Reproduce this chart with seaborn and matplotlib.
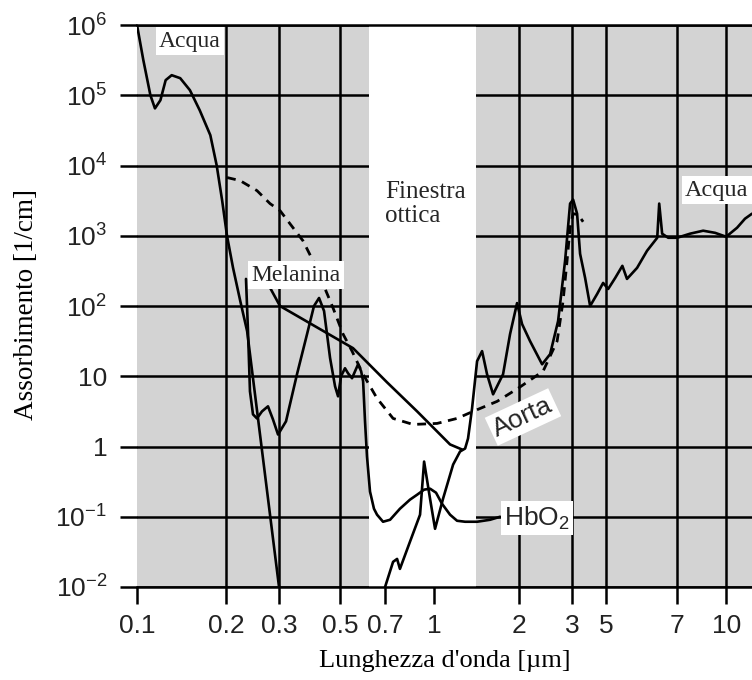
import numpy as np
import matplotlib
matplotlib.use("Agg")
import matplotlib.pyplot as plt
import seaborn as sns
from matplotlib.ticker import FixedLocator, NullLocator


# 1. DATA

water_uv_wl = [0.1, 0.105, 0.111, 0.115, 0.12, 0.125, 0.131, 0.14, 0.151, 0.163,
               0.177, 0.186, 0.194, 0.2015, 0.211, 0.223, 0.235, 0.3]
water_uv_abs = [1e6, 3.2e5, 1e5, 6.5e4, 8.5e4, 1.64e5, 1.93e5, 1.75e5, 1.18e5, 6.1e4,
                2.7e4, 1e4, 3.2e3, 1e3, 350, 118, 44, 0.01]

water_ir_wl = [0.7, 0.742, 0.764, 0.78, 0.839, 0.903, 0.93, 0.971, 1.008, 1.076,
               1.168, 1.236, 1.288, 1.319, 1.363, 1.42, 1.479, 1.54, 1.618, 1.755,
               1.858, 1.967, 2.046, 2.175, 2.385, 2.535, 2.695, 2.843, 2.954, 3.045,
               3.233, 3.382, 3.647, 3.932, 4.367, 4.78, 5.05, 5.22, 5.40, 5.52,
               5.79, 6.07, 6.37, 6.43, 6.52, 6.71, 7.0, 7.69, 8.46, 9.23,
               10.0, 10.83, 11.48, 12.08]
water_ir_abs = [0.01, 0.0228, 0.0251, 0.0181, 0.044, 0.107, 0.61, 0.181, 0.0674, 0.181,
                0.553, 0.849, 0.936, 1.3, 3.49, 16.4, 22.8, 10.7, 5.53, 10.7,
                39.8, 110, 55.3, 31.6, 14.8, 20.6, 61, 439, 2870, 3270,
                2060, 553, 251, 100, 148, 213, 175, 251, 373, 243,
                349, 611, 936, 2870, 1070, 936, 936, 1070, 1180, 1100,
                968, 1300, 1750, 2060]

hbo2_wl = [0.233, 0.2366, 0.2402, 0.2458, 0.2534, 0.2633, 0.2757, 0.2864, 0.2977, 0.318,
           0.3487, 0.3793, 0.402, 0.4194, 0.4373, 0.46, 0.4795, 0.4917, 0.5037, 0.5188,
           0.5309, 0.5469, 0.5594, 0.5722, 0.5853, 0.5941, 0.6026, 0.6116, 0.6255, 0.6443,
           0.6592, 0.6895, 0.726, 0.78, 0.839, 0.884, 0.93, 0.971, 1.016, 1.067,
           1.139, 1.206, 1.288, 1.42, 1.579, 1.713]
hbo2_abs = [243, 44, 6.1, 2.87, 2.51, 3.16, 3.73, 2.43, 1.48, 2.28,
            10.7, 39.8, 100, 130, 84.9, 18.1, 7.2, 5.18, 10, 13,
            11, 9.37, 11.8, 14.8, 11.8, 8.48, 2.28, 0.72, 0.228, 0.13,
            0.107, 0.0849, 0.0906, 0.13, 0.175, 0.206, 0.243, 0.251, 0.22, 0.153,
            0.107, 0.0877, 0.0849, 0.0849, 0.0906, 0.1]

melanin_wl = [0.2757, 0.3024, 0.4227, 0.551, 0.71, 0.884, 1.139, 1.256]
melanin_abs = [206, 100, 46.9, 25.1, 8.2, 3.16, 1.07, 0.906]

aorta_wl = [0.2015, 0.2226, 0.2534, 0.28, 0.3024, 0.3289, 0.3666, 0.3988, 0.4336, 0.4716,
            0.5114, 0.5469, 0.5936, 0.6592, 0.742, 0.858, 1.025, 1.206, 1.374, 1.672,
            1.984, 2.403, 2.675, 2.8, 2.886, 2.954, 3.045, 3.28, 3.54]
aorta_abs = [6740, 6100, 4390, 2870, 2280, 1480, 848, 439, 206, 93.6,
             39.8, 22.8, 10.7, 4.85, 2.51, 2.06, 2.13, 2.51, 3.16, 4.39,
             6.74, 11.8, 31.6, 118, 439, 1300, 2060, 2000, 1580]

x_ticks = [0.1, 0.2, 0.3, 0.5, 0.7, 1, 2, 3, 5, 7, 10]
x_ticklabels = ["0.1", "0.2", "0.3", "0.5", "0.7", "1", "2", "3", "5", "7", "10"]
y_ticks = [1e-2, 1e-1, 1, 10, 1e2, 1e3, 1e4, 1e5, 1e6]
y_ticklabels = ["10$^{-2}$", "10$^{-1}$", "1", "10", "10$^{2}$", "10$^{3}$",
                "10$^{4}$", "10$^{5}$", "10$^{6}$"]

window = (0.62, 1.41)   # "finestra ottica"
x_max = 12.08


# 2. THE HAND-DRAWN X AXIS (tick spacing is not a true log scale)

anchor_log = np.log10([0.063, 0.1, 0.2, 0.3, 0.5, 0.7, 1, 2, 3, 5, 7, 10, 15.85])
anchor_pos = np.array([78, 137, 226, 279, 340, 385, 434, 519, 572, 606, 677, 726, 789.0])


def fwd(x):
    x = np.clip(np.asarray(x, dtype=float), 1e-9, None)
    return np.interp(np.log10(x), anchor_log, anchor_pos)


def inv(p):
    return 10 ** np.interp(np.asarray(p, dtype=float), anchor_pos, anchor_log)


# 3. STYLE

sns.set_theme(style="white")
plt.rcParams["font.family"] = ["Liberation Sans", "DejaVu Sans"]
plt.rcParams["mathtext.fontset"] = "custom"
plt.rcParams["mathtext.rm"] = "Liberation Sans"
plt.rcParams["mathtext.it"] = "Liberation Sans:italic"
plt.rcParams["mathtext.bf"] = "Liberation Sans:bold"

gray = "#d3d3d3"
serif = ["Liberation Serif", "DejaVu Serif"]

fig = plt.figure(figsize=(7.52, 6.8), dpi=100)
ax = fig.add_axes([137 / 752, 93 / 680, 615 / 752, 562 / 680])
ax.set_facecolor(gray)

ax.set_xscale("function", functions=(fwd, inv))
ax.set_yscale("log")
ax.set_xlim(0.1, x_max)
ax.set_ylim(1e-2, 1e6)


# 4. CURVES

kw = dict(color="black", linewidth=1.9, estimator=None, sort=False, ax=ax, zorder=3)
sns.lineplot(x=water_uv_wl, y=water_uv_abs, **kw)
sns.lineplot(x=water_ir_wl, y=water_ir_abs, **kw)
sns.lineplot(x=hbo2_wl, y=hbo2_abs, **kw)
sns.lineplot(x=melanin_wl, y=melanin_abs, **kw)
sns.lineplot(x=aorta_wl, y=aorta_abs, **kw)
ax.lines[-1].set_linewidth(2.0)
ax.lines[-1].set_dashes([3.2, 2.4])

for ln in ax.lines:
    ln.set_solid_joinstyle("round")
    ln.set_solid_capstyle("round")


# 5. GRID, WINDOW, AXES

ax.xaxis.set_major_locator(FixedLocator(x_ticks))
ax.xaxis.set_minor_locator(NullLocator())
ax.set_xticklabels(x_ticklabels)
ax.yaxis.set_major_locator(FixedLocator(y_ticks))
ax.yaxis.set_minor_locator(NullLocator())
ax.set_yticklabels(y_ticklabels)

ax.set_axisbelow(True)
ax.grid(True, which="major", color="black", linewidth=1.8)
ax.get_xgridlines()[0].set_visible(False)
ax.axvspan(window[0], window[1], color="white", zorder=1, linewidth=0)

for side in ["left", "right"]:
    ax.spines[side].set_visible(False)
for side in ["top", "bottom"]:
    ax.spines[side].set_color("black")
    ax.spines[side].set_linewidth(1.8)

ax.tick_params(axis="both", which="major", direction="out", length=12.5, width=1.8,
               color="black", labelsize=19, labelcolor="#222222")
ax.tick_params(axis="x", pad=7, bottom=True)
ax.tick_params(axis="y", pad=9, left=True)

ax.set_xlabel("Lunghezza d'onda [µm]", family=serif, fontsize=19, color="black")
ax.set_ylabel("Assorbimento [1/cm]", family=serif, fontsize=19.5, color="black")
ax.xaxis.set_label_coords(0.501, -0.112)
ax.yaxis.set_label_coords(-0.16, 0.502)


# 6. LABELS

box = dict(facecolor="white", edgecolor="none", pad=2.5)
ax.text(0.0862, 0.9715, "Acqua", transform=ax.transAxes, family=serif, fontsize=17,
        ha="center", va="center", bbox=box, zorder=4)
ax.text(0.2585, 0.555, "Melanina", transform=ax.transAxes, family=serif, fontsize=17,
        ha="center", va="center", bbox=box, zorder=4)
ax.text(0.4033, 0.6815, "Finestra\nottica", transform=ax.transAxes, family=serif,
        fontsize=18, ha="left", va="center", linespacing=1.1, zorder=4)
ax.text(0.891, 0.7064, "Acqua", transform=ax.transAxes, family=serif, fontsize=17.5,
        ha="left", va="center", bbox=box, zorder=4)
ax.text(0.6276, 0.3025, "Aorta", transform=ax.transAxes, fontsize=19, rotation=25,
        ha="center", va="center", rotation_mode="anchor", bbox=box, zorder=4)
ax.text(0.6504, 0.1228, "HbO$_2$", transform=ax.transAxes, fontsize=19,
        ha="center", va="center", bbox=box, zorder=4)

fig.savefig("out.png", dpi=100)
plt.close(fig)
